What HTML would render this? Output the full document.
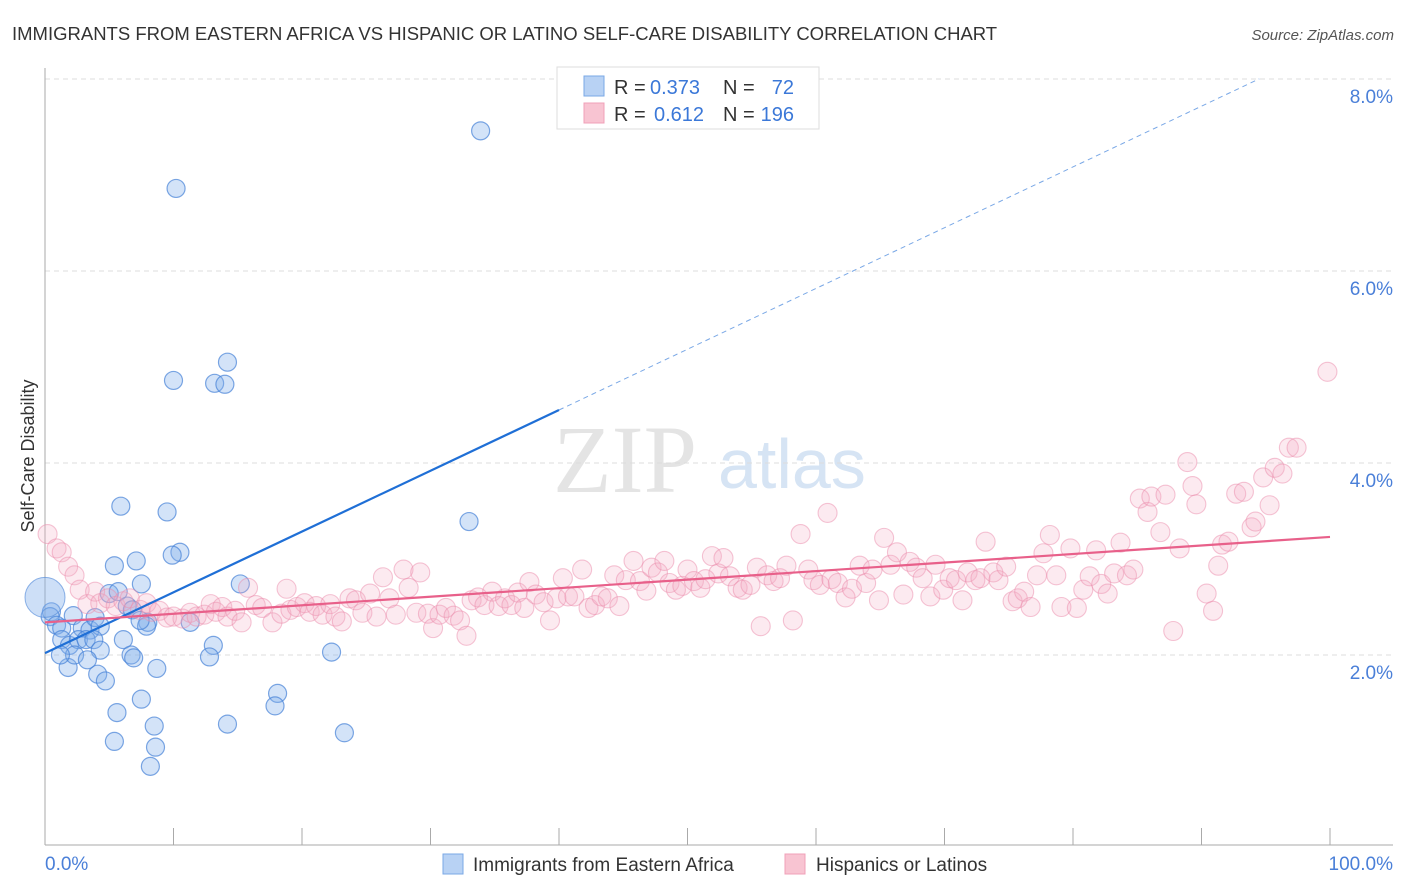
<!DOCTYPE html>
<html><head><meta charset="utf-8"><style>
body{margin:0;background:#fff;font-family:"Liberation Sans",sans-serif;}
svg{display:block}
</style></head><body>
<svg id="c" width="1406" height="892" xmlns="http://www.w3.org/2000/svg">
<text x="12" y="40" font-size="18.5" fill="#333">IMMIGRANTS FROM EASTERN AFRICA VS HISPANIC OR LATINO SELF-CARE DISABILITY CORRELATION CHART</text>
<text x="1394" y="40" font-size="15" fill="#555" font-style="italic" text-anchor="end">Source: ZipAtlas.com</text>
<text x="34" y="456" font-size="18" fill="#333" text-anchor="middle" transform="rotate(-90 34 456)">Self-Care Disability</text>
<g><text x="553" y="492" font-size="96" font-family="Liberation Serif,serif" fill="#e4e4e4">ZIP</text><text x="718" y="488" font-size="70" fill="#d6e4f4">atlas</text></g>
<g id="grid"></g><g id="axes"></g><g id="blue"></g><g id="pink"></g><g id="lines"></g>
<g>
<rect x="557" y="67" width="262" height="62" fill="#fff" stroke="#ddd"/>
<rect x="584" y="76" width="20" height="20" fill="#b8d2f4" stroke="#7aa8e6"/>
<rect x="584" y="103" width="20" height="20" fill="#f8c4d2" stroke="#f0a0b8"/>
<text x="614" y="94" font-size="20" fill="#333">R =</text>
<text x="650" y="94" font-size="20" fill="#3b78d8">0.373</text>
<text x="723" y="94" font-size="20" fill="#333">N =</text>
<text x="794" y="94" font-size="20" fill="#3b78d8" text-anchor="end">72</text>
<text x="614" y="121" font-size="20" fill="#333">R =</text>
<text x="654" y="121" font-size="20" fill="#3b78d8">0.612</text>
<text x="723" y="121" font-size="20" fill="#333">N =</text>
<text x="794" y="121" font-size="20" fill="#3b78d8" text-anchor="end">196</text>
</g>
<g>
<rect x="443" y="854" width="20" height="20" fill="#b8d2f4" stroke="#7aa8e6"/>
<text x="473" y="871" font-size="19" fill="#333">Immigrants from Eastern Africa</text>
<rect x="785" y="854" width="20" height="20" fill="#f8c4d2" stroke="#f0a0b8"/>
<text x="816" y="871" font-size="19" fill="#333">Hispanics or Latinos</text>
</g>
</svg>
<script>
const yTicks=[2,4,6,8];
const xTickCount=10;
const blueX=[33.9,10.2,14.2,10.0,13.2,14.0,5.9,9.5,33.0,10.5,9.9,5.4,7.1,15.2,7.5,5.0,5.7,6.4,0.5,6.1,13.1,22.3,12.8,6.7,6.9,8.7,1.8,4.1,4.7,18.1,17.9,7.5,5.6,14.2,8.5,23.3,5.4,8.6,8.2,0.4,0.9,1.3,2.2,2.9,3.5,3.9,4.3,1.3,1.9,2.6,3.2,3.8,4.3,2.3,3.3,1.2,8.0,7.9,11.3,6.8,7.4];
const blueY=[7.46,6.86,5.05,4.86,4.83,4.82,3.55,3.49,3.39,3.07,3.04,2.93,2.98,2.74,2.74,2.64,2.66,2.51,2.45,2.16,2.10,2.03,1.98,2.00,1.97,1.86,1.87,1.80,1.73,1.60,1.47,1.54,1.40,1.28,1.26,1.19,1.10,1.04,0.84,2.40,2.31,2.28,2.41,2.28,2.26,2.39,2.30,2.16,2.10,2.16,2.16,2.16,2.05,2.00,1.95,2.00,2.34,2.30,2.34,2.47,2.36];
const pinkX=[0.2,0.9,1.3,1.8,2.3,2.7,3.3,3.9,4.3,4.9,5.5,6.1,6.6,7.4,7.9,8.3,8.9,9.5,10.0,10.7,11.3,11.8,12.4,12.9,13.3,13.8,14.2,14.8,15.3,15.8,16.4,16.9,17.7,18.4,18.8,19.1,19.6,20.2,20.6,21.1,21.6,22.2,22.6,23.1,23.7,24.2,24.7,25.3,25.8,26.3,26.8,27.3,27.9,28.3,28.9,29.2,29.8,30.2,30.7,31.2,31.8,32.3,32.8,33.2,33.7,34.2,34.8,35.3,35.8,36.3,36.8,37.3,37.7,38.2,38.8,39.3,39.8,40.3,40.7,41.2,41.8,42.3,42.8,43.3,43.8,44.3,44.7,45.2,45.8,46.3,46.8,47.2,47.7,48.2,48.6,49.1,49.6,50.0,50.5,51.0,51.4,51.9,52.4,52.8,53.3,53.9,54.3,54.9,55.4,55.7,56.2,56.7,57.2,57.7,58.2,58.8,59.4,59.8,60.3,60.9,61.2,61.7,62.3,62.8,63.4,63.9,64.4,64.9,65.3,65.8,66.3,66.8,67.3,67.8,68.3,68.9,69.3,69.9,70.4,70.9,71.4,71.8,72.4,72.8,73.2,73.8,74.2,74.8,75.3,75.7,76.2,76.7,77.2,77.7,78.2,78.7,79.1,79.8,80.3,80.8,81.3,81.8,82.2,82.7,83.2,83.7,84.2,84.7,85.2,85.8,86.1,86.8,87.2,87.8,88.3,88.9,89.3,89.6,90.4,90.9,91.3,91.6,92.1,92.7,93.3,93.9,94.2,94.8,95.3,95.7,96.3,96.8,97.4,99.8];
const pinkY=[3.26,3.11,3.07,2.92,2.83,2.68,2.53,2.66,2.54,2.59,2.51,2.56,2.59,2.47,2.54,2.45,2.46,2.39,2.40,2.38,2.44,2.40,2.42,2.53,2.45,2.50,2.40,2.46,2.34,2.70,2.52,2.49,2.34,2.43,2.69,2.47,2.50,2.54,2.45,2.51,2.42,2.53,2.40,2.35,2.59,2.57,2.44,2.64,2.40,2.81,2.59,2.42,2.89,2.70,2.44,2.86,2.43,2.28,2.42,2.49,2.41,2.36,2.20,2.57,2.60,2.52,2.66,2.51,2.59,2.52,2.65,2.49,2.76,2.63,2.55,2.36,2.59,2.80,2.61,2.61,2.89,2.49,2.52,2.61,2.59,2.83,2.51,2.78,2.98,2.77,2.67,2.91,2.86,2.98,2.75,2.68,2.72,2.89,2.77,2.70,2.79,3.03,2.85,3.01,2.82,2.70,2.68,2.73,2.91,2.30,2.83,2.77,2.80,2.93,2.36,3.26,2.89,2.78,2.73,3.48,2.79,2.75,2.60,2.69,2.93,2.75,2.89,2.57,3.22,2.94,3.07,2.63,2.97,2.91,2.80,2.61,2.94,2.68,2.80,2.78,2.57,2.86,2.78,2.80,3.18,2.86,2.78,2.92,2.56,2.59,2.66,2.50,2.83,3.06,3.25,2.83,2.50,3.11,2.49,2.68,2.82,3.09,2.74,2.64,2.85,3.17,2.83,2.89,3.63,3.49,3.65,3.28,3.67,2.25,3.11,4.01,3.76,3.57,2.64,2.46,2.93,3.15,3.18,3.68,3.70,3.33,3.39,3.85,3.56,3.95,3.89,4.16,4.16,4.95];
const blueFit=[2.02,0.0633]; // intercept, slope per %
const pinkFit=[2.34,0.0089];
const NS='http://www.w3.org/2000/svg';
const X=v=>45+v*12.85, Y=v=>847-v*96;
function mk(t,a,p){const e=document.createElementNS(NS,t);for(const k in a)e.setAttribute(k,a[k]);p.appendChild(e);return e;}
const grid=document.getElementById('grid'),axes=document.getElementById('axes');
yTicks.forEach(t=>{
 const l=mk('line',{x1:45,x2:1393,y1:Y(t),y2:Y(t),stroke:'#ddd','stroke-dasharray':'5,4'},grid);
 
 
 const tx=mk('text',{x:1393,y:Y(t)+24,'font-size':19,fill:'#4a7fd8','text-anchor':'end'},grid);
 tx.textContent=t.toFixed(1)+'%';
 
 
});
mk('line',{x1:45,x2:45,y1:68,y2:845,stroke:'#aaa'},axes);
mk('line',{x1:45,x2:1393,y1:845,y2:845,stroke:'#aaa'},axes);
for(let i=0;i<=xTickCount;i++){const tk=mk('line',{x1:X(i*10),x2:X(i*10),y1:828,y2:845,stroke:'#aaa'},axes);
 
 }
const a0=mk('text',{x:45,y:870,'font-size':19,fill:'#4a7fd8'},axes);a0.textContent='0.0%';


const a1=mk('text',{x:1393,y:870,'font-size':19,fill:'#4a7fd8','text-anchor':'end'},axes);a1.textContent='100.0%';


const bg=document.getElementById('blue'),pg=document.getElementById('pink'),lg=document.getElementById('lines');
pinkX.forEach((x,i)=>{const c=mk('circle',{cx:X(x),cy:Y(pinkY[i]),r:9.5,fill:'rgba(244,170,195,0.25)',stroke:'rgba(236,140,172,0.5)','stroke-width':1.1},pg);
 
 });
blueX.forEach((x,i)=>{const c=mk('circle',{cx:X(x),cy:Y(blueY[i]),r:9,fill:'rgba(130,175,235,0.35)',stroke:'rgba(70,130,215,0.7)','stroke-width':1.2},bg);
 
 });
const big=mk('circle',{cx:X(0),cy:Y(2.6),r:20,fill:'rgba(130,175,235,0.4)',stroke:'rgba(70,130,215,0.6)'},bg);


const bf=x=>blueFit[0]+blueFit[1]*x, pf=x=>pinkFit[0]+pinkFit[1]*x;
const l1=mk('line',{x1:X(0),y1:Y(bf(0)),x2:X(40),y2:Y(bf(40)),stroke:'#1f6fd6','stroke-width':2.2},lg);


const l2=mk('line',{x1:X(40),y1:Y(bf(40)),x2:X(94.5),y2:Y(bf(94.5)),stroke:'#7aa8e6','stroke-width':1,'stroke-dasharray':'5,4'},lg);


const l3=mk('line',{x1:X(0),y1:Y(pf(0)),x2:X(100),y2:Y(pf(100)),stroke:'#e8608a','stroke-width':2.2},lg);


</script>
</body></html>
